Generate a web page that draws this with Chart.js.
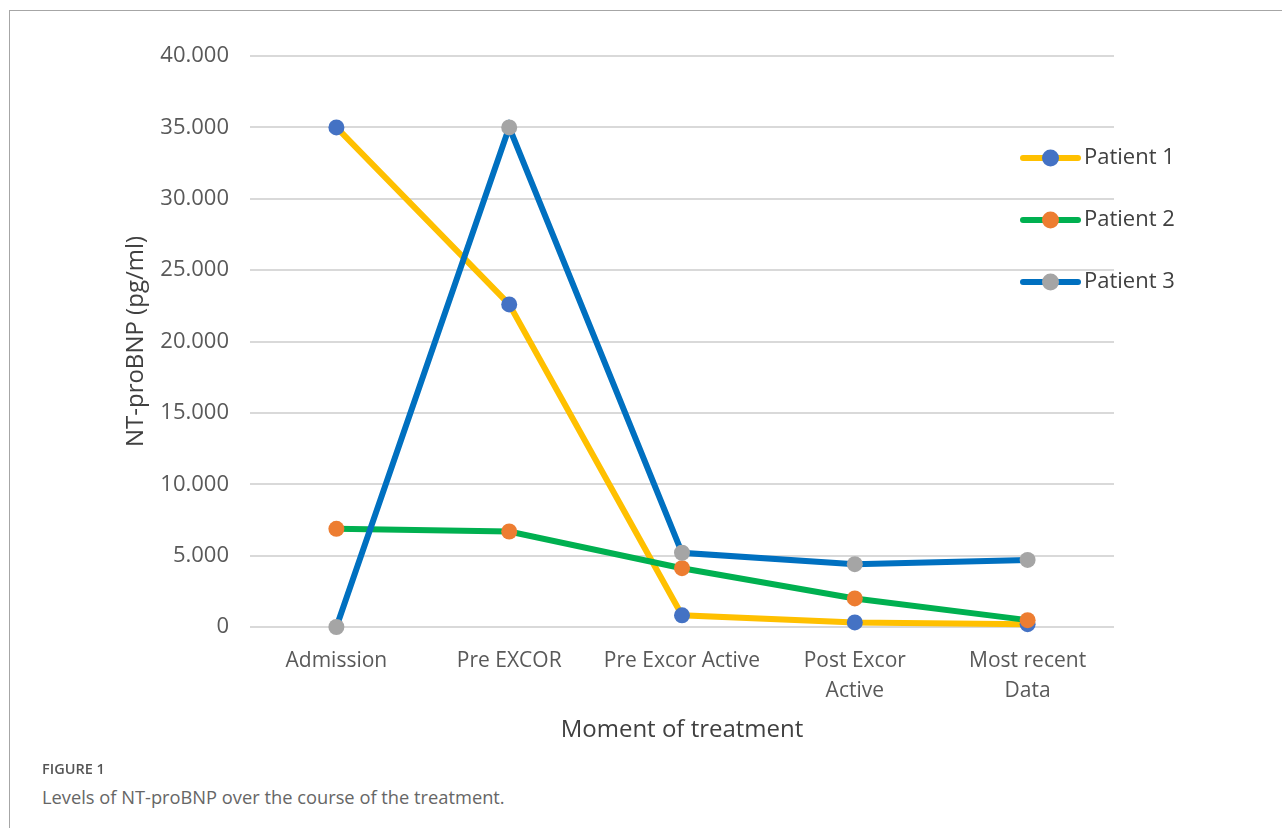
<!DOCTYPE html>
<html>
<head>
<meta charset="utf-8">
<script src="https://cdn.jsdelivr.net/npm/chart.js@4.4.1/dist/chart.umd.min.js"></script>
<style>
  html, body { margin: 0; padding: 0; background: #fff; }
  body { width: 1282px; height: 828px; position: relative; overflow: hidden; font-family: "Open Sans", sans-serif; }
  #moldura { position: absolute; left: 9px; top: 10px; right: 0; bottom: 0; border-top: 1px solid #a6a6a6; border-left: 1px solid #a6a6a6; }
  #grafico { position: absolute; left: 0; top: 0; }
  #figura { position: absolute; left: 42px; top: 759px; font-size: 14.5px; font-weight: 600; color: #555; }
  #legenda { position: absolute; left: 42px; top: 784px; font-size: 18.3px; color: #666; }
</style>
</head>
<body>
<div id="moldura"></div>
<canvas id="grafico" width="1282" height="760"></canvas>
<div id="figura">FIGURE 1</div>
<div id="legenda">Levels of NT-proBNP over the course of the treatment.</div>
<script>
const momentos = ["Admission", "Pre EXCOR", "Pre Excor Active", ["Post Excor", "Active"], ["Most recent", "Data"]];
const paciente1 = [35000, 22600, 820, 320, 200];
const paciente2 = [6880, 6690, 4120, 2000, 480];
const paciente3 = [0, 35000, 5200, 4400, 4700];
const nomesPacientes = ["Patient 1", "Patient 2", "Patient 3"];
const ticksY = [0, 5000, 10000, 15000, 20000, 25000, 30000, 35000, 40000];

const corLinha = ["#FFC000", "#00B050", "#0070C0"];
const corMarcador = ["#4472C4", "#ED7D31", "#A5A5A5"];

function formatarMilhar(v) {
  return String(v).replace(/\B(?=(\d{3})+(?!\d))/g, ".");
}

function criarSerie(i, dados) {
  return {
    label: nomesPacientes[i],
    data: dados,
    borderColor: corLinha[i],
    backgroundColor: corLinha[i],
    borderWidth: 6,
    pointRadius: 8,
    pointHoverRadius: 8,
    pointBackgroundColor: corMarcador[i],
    pointBorderColor: corMarcador[i],
    pointBorderWidth: 0,
    tension: 0,
    clip: false,
    order: 3 - i
  };
}

// legenda desenhada por cima da area do grafico, como no original
const legendaSobreposta = {
  id: "legendaSobreposta",
  afterDraw(chart) {
    const ctx = chart.ctx;
    const linhasY = [158, 220, 282];
    chart.data.datasets.forEach((ds, i) => {
      const y = linhasY[i];
      ctx.save();
      ctx.strokeStyle = ds.borderColor;
      ctx.lineWidth = 6;
      ctx.lineCap = "round";
      ctx.beginPath();
      ctx.moveTo(1023, y);
      ctx.lineTo(1078, y);
      ctx.stroke();
      ctx.fillStyle = ds.pointBackgroundColor;
      ctx.beginPath();
      ctx.arc(1050.5, y, 8.5, 0, Math.PI * 2);
      ctx.fill();
      ctx.fillStyle = "#404040";
      ctx.font = "22px 'Open Sans'";
      ctx.textBaseline = "middle";
      ctx.textAlign = "left";
      ctx.fillText(ds.label, 1084, y);
      ctx.restore();
    });
  }
};

const ctx = document.getElementById("grafico").getContext("2d");

new Chart(ctx, {
  type: "line",
  data: {
    labels: momentos,
    datasets: [
      criarSerie(0, paciente1),
      criarSerie(1, paciente2),
      criarSerie(2, paciente3)
    ]
  },
  options: {
    responsive: false,
    animation: false,
    layout: { padding: { top: 56, right: 168, left: 0, bottom: 0 } },
    plugins: {
      legend: { display: false },
      tooltip: { enabled: false }
    },
    scales: {
      x: {
        offset: true,
        grid: { display: false },
        border: { display: false },
        ticks: {
          color: "#595959",
          font: { family: "Open Sans", size: 21, lineHeight: 1.43 },
          padding: 11,
          maxRotation: 0,
          autoSkip: false
        },
        title: {
          display: true,
          text: "Moment of treatment",
          color: "#404040",
          font: { family: "Open Sans", size: 24, lineHeight: 1.2 },
          padding: { top: 0, bottom: 15 }
        },
        afterFit(scale) { scale.height = 133; }
      },
      y: {
        min: 0,
        max: 40000,
        afterBuildTicks(scale) { scale.ticks = ticksY.map(v => ({ value: v })); },
        grid: { color: "#D9D9D9", lineWidth: 2, drawTicks: false },
        border: { display: false },
        ticks: {
          color: "#595959",
          font: { family: "Open Sans", size: 22 },
          padding: 21,
          callback: v => formatarMilhar(v)
        },
        title: {
          display: true,
          text: "NT-proBNP (pg/ml)",
          color: "#404040",
          font: { family: "Open Sans", size: 24, lineHeight: 1.2 },
          padding: { top: 122, bottom: 0 }
        },
        afterFit(scale) { scale.width = 250; }
      }
    }
  },
  plugins: [legendaSobreposta]
});
</script>
</body>
</html>
